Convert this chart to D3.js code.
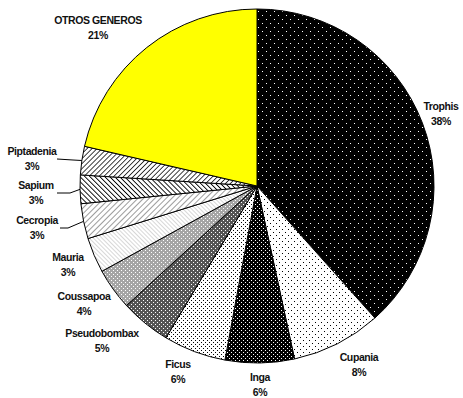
<!DOCTYPE html>
<html lang="es">
<head>
    <meta charset="utf-8">
    <title>Generos</title>
    <script src="https://d3js.org/d3.v7.min.js"></script>
    <style>
        body { margin: 0; background: #fff; }
        text { font-family: "Liberation Sans", Arial, sans-serif; font-weight: bold; font-size: 10.5px; letter-spacing: -0.4px; fill: #111; }
    </style>
</head>
<body>
    <div id="chart"></div>
    <script>
        // Data (percent, clockwise from 12 o'clock)
        const generos = ["Trophis", "Cupania", "Inga", "Ficus", "Pseudobombax", "Coussapoa", "Mauria", "Cecropia", "Sapium", "Piptadenia", "OTROS GENEROS"];
        const porcentajes = [38.4, 8.2, 6.3, 5.7, 4.6, 3.8, 3.2, 3.2, 2.6, 2.6, 21.4];

        // Label layout (center x, first baseline)
        const labelPos = [[441, 110], [359, 361], [260, 381], [178, 368], [102, 337], [84, 300], [68, 261], [37, 224], [36, 189], [32, 155], [98, 24]];
        // Leader lines for the thin slices on the left
        const leaders = { 9: [[57, 159], [73, 160]], 8: [[57, 193], [70, 193]], 7: [[60, 228], [68, 228]] };

        const width = 463;
        const height = 398;
        const cx = 257, cy = 186, radius = 177;

        const svg = d3.select("#chart")
            .append("svg")
            .attr("width", width)
            .attr("height", height);

        const defs = svg.append("defs");

        // dotted fills
        function dots(id, size, bg, fg, pts) {
            const p = defs.append("pattern")
                .attr("id", id)
                .attr("patternUnits", "userSpaceOnUse")
                .attr("width", size)
                .attr("height", size);
            p.append("rect").attr("width", size).attr("height", size).attr("fill", bg);
            pts.forEach(pt => {
                p.append("rect").attr("x", pt[0]).attr("y", pt[1]).attr("width", 1).attr("height", 1).attr("fill", fg);
            });
        }
        // hatch fills
        function hatch(id, gap, sw, angle, color) {
            const p = defs.append("pattern")
                .attr("id", id)
                .attr("patternUnits", "userSpaceOnUse")
                .attr("width", gap)
                .attr("height", gap)
                .attr("patternTransform", `rotate(${angle})`);
            p.append("rect").attr("width", gap).attr("height", gap).attr("fill", "#fff");
            p.append("line")
                .attr("x1", 0).attr("y1", 0).attr("x2", 0).attr("y2", gap)
                .attr("stroke", color)
                .attr("stroke-width", sw);
        }

        dots("p0", 8, "#000", "#fff", [[1, 1], [5, 5]]);
        dots("p1", 6, "#fff", "#000", [[1, 1], [4, 4]]);
        dots("p2", 4, "#000", "#fff", [[0, 0], [2, 2]]);
        dots("p3", 4, "#fff", "#000", [[0, 0], [2, 2]]);
        dots("p4", 4, "#555", "#fff", [[0, 0], [2, 2]]);
        dots("p5", 4, "#a5a5a5", "#fff", [[0, 0], [2, 2]]);
        hatch("p6", 3, 0.6, -45, "#777");
        hatch("p7", 4, 0.9, 45, "#222");
        hatch("p8", 3.5, 1.8, -45, "#000");
        hatch("p9", 3.5, 1.5, 45, "#000");

        const fills = generos.map((g, i) => i < 10 ? `url(#p${i})` : "#ffff00");

        const pie = d3.pie().sort(null).value(d => d)(porcentajes);
        const arc = d3.arc().innerRadius(0).outerRadius(radius);
        const edge = d3.arc().innerRadius(radius).outerRadius(radius);

        const g = svg.append("g").attr("transform", `translate(${cx},${cy})`);

        g.selectAll(".slice")
            .data(pie)
            .enter().append("path")
            .attr("class", "slice")
            .attr("d", arc)
            .attr("fill", (d, i) => fills[i])
            .attr("stroke", "#000")
            .attr("stroke-width", 1);

        // leader lines
        Object.keys(leaders).forEach(k => {
            const c = edge.centroid(pie[k]);
            const pts = leaders[k].concat([[c[0] + cx, c[1] + cy]]);
            svg.append("path")
                .attr("d", d3.line()(pts))
                .attr("fill", "none")
                .attr("stroke", "#000")
                .attr("stroke-width", 1);
        });

        // labels
        generos.forEach((name, i) => {
            const t = svg.append("text")
                .attr("text-anchor", "middle");
            t.append("tspan")
                .attr("x", labelPos[i][0])
                .attr("y", labelPos[i][1])
                .text(name);
            t.append("tspan")
                .attr("x", labelPos[i][0])
                .attr("y", labelPos[i][1] + 15)
                .text(Math.round(porcentajes[i]) + "%");
        });
    </script>
</body>
</html>
